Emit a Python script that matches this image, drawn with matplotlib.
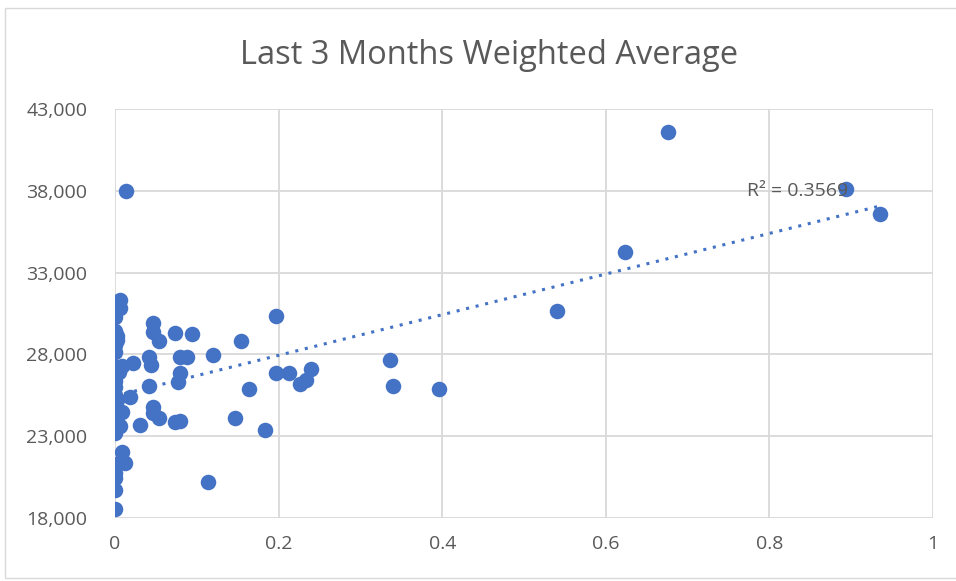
import numpy as np
import matplotlib.pyplot as plt
from matplotlib.patches import Rectangle
from matplotlib.ticker import FuncFormatter

# 値
x_vals = [0.013, 0.676, 0.894, 0.935, 0.623, 0.540, 0.336, 0.340, 0.396,
          0.197, 0.154, 0.120, 0.197, 0.213, 0.240, 0.234, 0.226, 0.164,
          0.147, 0.183, 0.114, 0.079,
          0.047, 0.047, 0.054, 0.073, 0.094, 0.022, 0.041, 0.044, 0.079,
          0.088, 0.080, 0.077, 0.041, 0.018, 0.046, 0.047, 0.054, 0.073,
          0.030,
          0.006, 0.006, 0.000, 0.000, 0.003, 0.000, 0.003, 0.000, 0.000,
          0.000, 0.005, 0.000, 0.000, 0.000, 0.000, 0.000, 0.000, 0.000,
          0.000, 0.000, 0.000, 0.004, 0.008, 0.006, 0.008, 0.012, 0.003,
          0.000, 0.000, 0.000, 0.000, 0.008, 0.002]
y_vals = [38000, 41600, 38100, 36600, 34260, 30650, 27660, 26070, 25880,
          30350, 28840, 27960, 26880, 26840, 27090, 26430, 26190, 25870,
          24100, 23380, 20220, 23900,
          29940, 29390, 28820, 29330, 29250, 27450, 27820, 27350, 26880,
          27860, 27860, 26330, 26070, 25410, 24770, 24400, 24100, 23890,
          23680,
          31300, 30830, 30290, 29400, 29150, 29000, 28880, 28570, 28150,
          27200, 26900, 26800, 26400, 26000, 25500, 25000, 24600, 24200,
          23800, 23400, 23200, 24400, 24500, 23600, 22050, 21380, 21300,
          20750, 20450, 19700, 18550, 27300, 25200]

x_ticks = [0, 0.2, 0.4, 0.6, 0.8, 1]
y_ticks = [18000, 23000, 28000, 33000, 38000, 43000]
title = "Last 3 Months Weighted Average"
r2_label = "R² = 0.3569"

blue = "#4472C4"
gray_text = "#595959"
grid_col = "#D9D9D9"

plt.rcParams['font.family'] = ['Open Sans', 'DejaVu Sans']

fig = plt.figure(figsize=(9.56, 5.81), dpi=100)
ax = fig.add_axes([115/956, 1-518/581, (933-115)/956, (518-109)/581])

x = np.array(x_vals)
y = np.array(y_vals)
ax.scatter(x, y, s=125, color=blue, zorder=3, linewidths=0)

# 線形トレンドライン
k, b = np.polyfit(x, y, 1)
xt = np.array([x.min(), x.max()])
ax.plot(xt, k*xt + b, linestyle=(0, (1, 2.2)), color=blue, lw=2.2, zorder=2)

ax.set_xlim(0, 1)
ax.set_ylim(18000, 43000)
ax.set_xticks(x_ticks)
ax.set_yticks(y_ticks)
ax.xaxis.set_major_formatter(FuncFormatter(lambda v, p: "0" if v == 0 else ("1" if v == 1 else f"{v:g}")))
ax.yaxis.set_major_formatter(FuncFormatter(lambda v, p: f"{int(v):,}"))
ax.grid(True, color=grid_col, lw=1.3, zorder=0)
for s in ax.spines.values():
    s.set_visible(False)
ax.tick_params(length=0, labelsize=14, labelcolor=gray_text, pad=12)
ax.tick_params(axis='y', pad=20)

ax.text(0.834, 38000, r2_label, fontsize=14, color=gray_text, ha='center', va='center', zorder=4)

fig.text(489/956, 1-55/581, title, fontsize=23.5, color=gray_text, ha='center', va='center')

fig.patches.append(Rectangle((5/956, 3/581), 1.0, 1-11/581, transform=fig.transFigure,
                             fill=False, edgecolor=grid_col, lw=1))

fig.savefig("out.png", dpi=100)
